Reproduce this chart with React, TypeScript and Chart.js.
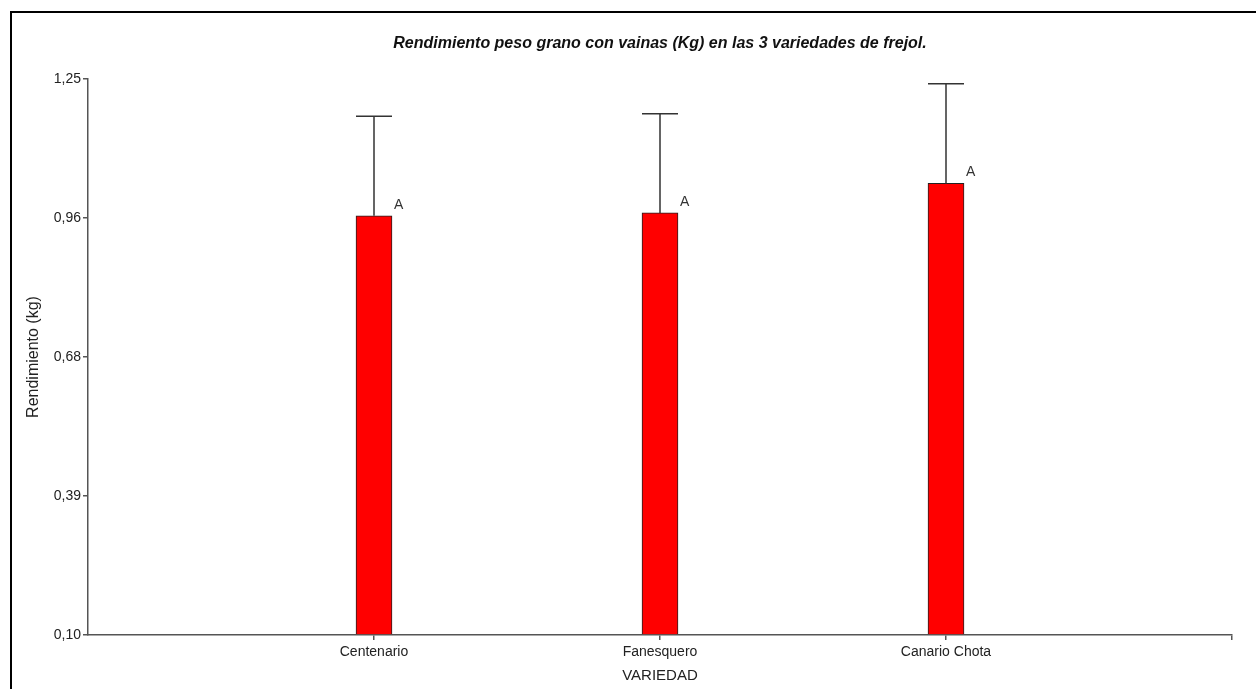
import React, { useEffect, useRef } from "react";
import { Chart, registerables } from "chart.js";

Chart.register(...registerables);

const TITLE = "Rendimiento peso grano con vainas (Kg) en las 3 variedades de frejol.";
const Y_TITLE = "Rendimiento (kg)";
const X_TITLE = "VARIEDAD";
const CATEGORIES = ["Centenario", "Fanesquero", "Canario Chota"];
const MEANS = [0.967, 0.973, 1.034];
const ERRORS = [0.206, 0.205, 0.206];
const GROUP_LETTERS = ["A", "A", "A"];
const Y_MIN = 0.1;
const Y_MAX = 1.25;
const Y_TICKS = [0.1, 0.3875, 0.675, 0.9625, 1.25];
const Y_TICK_LABELS = ["0,10", "0,39", "0,68", "0,96", "1,25"];

const FONT = "'Liberation Sans', Arial, sans-serif";
const TEXT = "#222";
const AXIS = "#555";

const errorBarPlugin = {
  id: "errorBars",
  afterDatasetsDraw(chart: any) {
    const meta = chart.getDatasetMeta(0);
    const yScale = chart.scales.y;
    const ctx = chart.ctx;
    ctx.save();
    meta.data.forEach((el: any, i: number) => {
      const idx = i - 1;
      if (idx < 0 || idx >= MEANS.length) return;
      const w = el.width;
      const x = el.x;
      const yTop = yScale.getPixelForValue(MEANS[idx] + ERRORS[idx]);
      ctx.strokeStyle = "#333";
      ctx.lineWidth = 1.5;
      ctx.beginPath();
      ctx.moveTo(x, el.y);
      ctx.lineTo(x, yTop);
      ctx.moveTo(x - w / 2, yTop);
      ctx.lineTo(x + w / 2, yTop);
      ctx.stroke();
      ctx.fillStyle = "#333";
      ctx.font = `14px ${FONT}`;
      ctx.textAlign = "left";
      ctx.textBaseline = "alphabetic";
      ctx.fillText(GROUP_LETTERS[idx], x + w / 2 + 2, el.y - 7);
    });
    ctx.restore();
  },
};

export default function App() {
  const ref = useRef<HTMLCanvasElement>(null);

  useEffect(() => {
    if (!ref.current) return;
    const labels = ["", ...CATEGORIES, ""];
    const data = [null, ...MEANS, null];
    const chart = new Chart(ref.current, {
      type: "bar",
      data: {
        labels,
        datasets: [
          {
            data: data as any,
            backgroundColor: "#ff0000",
            borderColor: "#222",
            borderWidth: 1,
            barThickness: 36,
            base: Y_MIN,
          } as any,
        ],
      },
      options: {
        animation: false,
        responsive: true,
        maintainAspectRatio: false,
        layout: { padding: { left: 12, right: 24, top: 0, bottom: 0 } },
        plugins: {
          legend: { display: false },
          tooltip: { enabled: false },
          title: {
            display: true,
            text: TITLE,
            fullSize: false,
            color: "#111",
            font: { family: FONT, size: 16, weight: "bold", style: "italic", lineHeight: 1.2 },
            padding: { top: 33.8, bottom: 26 },
          },
        },
        scales: {
          x: {
            type: "category",
            offset: false,
            grid: {
              display: true,
              offset: false,
              drawOnChartArea: false,
              drawTicks: true,
              tickLength: 5,
              color: (c: any) => (c.index === 0 ? "rgba(0,0,0,0)" : AXIS),
              lineWidth: 1.5,
            },
            border: { display: true, color: AXIS, width: 1.5 },
            ticks: {
              autoSkip: false,
              maxRotation: 0,
              minRotation: 0,
              padding: 4,
              color: TEXT,
              font: { family: FONT, size: 14 },
            },
            title: {
              display: true,
              text: X_TITLE,
              color: TEXT,
              font: { family: FONT, size: 15 },
              padding: { top: 0, bottom: 4 },
            },
            afterFit: (scale: any) => {
              scale.height = 54;
            },
          },
          y: {
            type: "linear",
            min: Y_MIN,
            max: Y_MAX,
            afterBuildTicks: (scale: any) => {
              scale.ticks = Y_TICKS.map((v) => ({ value: v }));
            },
            grid: {
              display: true,
              drawOnChartArea: false,
              drawTicks: true,
              tickLength: 5,
              color: AXIS,
              lineWidth: 1.5,
            },
            border: { display: true, color: AXIS, width: 1.5 },
            ticks: {
              padding: 2,
              color: TEXT,
              font: { family: FONT, size: 14 },
              callback: (_v: any, i: number) => Y_TICK_LABELS[i],
            },
            title: {
              display: true,
              text: Y_TITLE,
              color: TEXT,
              font: { family: FONT, size: 16 },
              padding: { top: 12.4, bottom: 0 },
            },
            afterFit: (scale: any) => {
              scale.width = 76;
            },
          },
        },
      },
      plugins: [errorBarPlugin],
    });
    return () => chart.destroy();
  }, []);

  return (
    <div
      style={{
        position: "fixed",
        left: 0,
        top: 0,
        width: 1256,
        height: 689,
        overflow: "hidden",
        background: "#fff",
      }}
    >
      <canvas ref={ref} style={{ position: "absolute", left: 0, top: 0 }} />
      <div
        style={{
          position: "absolute",
          left: 10,
          top: 11,
          width: 3000,
          height: 3000,
          borderLeft: "2px solid #000",
          borderTop: "2px solid #000",
          pointerEvents: "none",
        }}
      />
    </div>
  );
}
